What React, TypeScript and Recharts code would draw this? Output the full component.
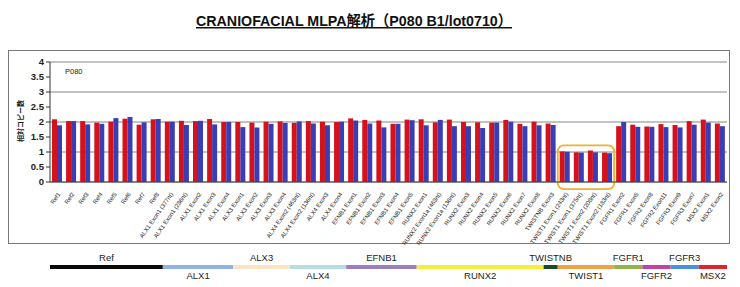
import React from 'react';
import { BarChart, Bar, XAxis, YAxis, CartesianGrid, ReferenceArea, LabelList } from 'recharts';

const categories = [
  'Ref1', 'Ref2', 'Ref3', 'Ref4', 'Ref5', 'Ref6', 'Ref7', 'Ref8',
  'ALX1 Exon1 (377nt)', 'ALX1 Exon1 (286nt)', 'ALX1 Exon2', 'ALX1 Exon3', 'ALX1 Exon4',
  'ALX3 Exon1', 'ALX3 Exon2', 'ALX3 Exon3', 'ALX3 Exon4',
  'ALX4 Exon2 (463nt)', 'ALX4 Exon2 (136nt)', 'ALX4 Exon3', 'ALX4 Exon4',
  'EFNB1 Exon1', 'EFNB1 Exon2', 'EFNB1 Exon3', 'EFNB1 Exon4', 'EFNB1 Exon5',
  'RUNX2 Exon1', 'RUNX2 Exon1a (463nt)', 'RUNX2 Exon1a (136nt)', 'RUNX2 Exon3', 'RUNX2 Exon4',
  'RUNX2 Exon5', 'RUNX2 Exon6', 'RUNX2 Exon7', 'RUNX2 Exon8',
  'TWISTNB Exon3',
  'TWIST1 Exon1 (243nt)', 'TWIST1 Exon1 (375nt)', 'TWIST1 Exon2 (208nt)', 'TWIST1 Exon2 (183nt)',
  'FGFR1 Exon2', 'FGFR1 Exon5', 'FGFR2 Exon8', 'FGFR2 Exon11', 'FGFR3 Exon9', 'FGFR3 Exon7',
  'MSX2 Exon1', 'MSX2 Exon2',
];

const sampleRed = [
  2.09, 2.03, 2.03, 1.98, 2.01, 2.11, 1.91, 2.09,
  2.01, 2.04, 2.03, 2.10, 2.00,
  2.00, 1.98, 2.01, 2.02,
  1.97, 2.03, 2.01, 2.00,
  2.12, 2.07, 2.05, 1.94, 2.08,
  2.09, 1.99, 2.08, 2.00, 1.99, 1.98, 2.07, 1.94, 2.01,
  1.95,
  1.02, 0.99, 1.05, 0.98,
  1.86, 1.91, 1.85, 1.93, 1.90, 2.03,
  2.08, 1.95,
];

const sampleBlue = [
  1.89, 2.03, 1.92, 1.94, 2.13, 2.17, 1.99, 2.10,
  2.01, 1.90, 2.04, 1.92, 2.00,
  1.83, 1.82, 1.94, 1.97,
  2.02, 1.95, 1.89, 2.01,
  2.05, 1.95, 1.82, 1.94, 2.06,
  1.89, 2.07, 1.86, 1.86, 1.80, 1.98, 2.01, 1.86, 1.89,
  1.90,
  1.01, 0.98, 0.99, 0.96,
  2.00, 1.84, 1.84, 1.83, 1.82, 1.91,
  1.98, 1.86,
];

const yTicks = [0, 0.5, 1, 1.5, 2, 2.5, 3, 3.5, 4];

const geneNames = ['Ref', 'ALX1', 'ALX3', 'ALX4', 'EFNB1', 'RUNX2', 'TWISTNB', 'TWIST1', 'FGFR1', 'FGFR2', 'FGFR3', 'MSX2'];
const geneProbeCounts = [8, 5, 4, 4, 5, 9, 1, 4, 2, 2, 2, 2];
const geneColors = ['#0a0a0a', '#8fb3e3', '#fbe4c4', '#b7dede', '#9a7fc2', '#f4ef3a', '#1d4a2e', '#eea245', '#94b347', '#c2449f', '#4b92d8', '#e0242a'];

const chartData = categories.map((c, i) => ({ probe: c, red: sampleRed[i], blue: sampleBlue[i] }));
const geneRow = [Object.assign({ row: 'genes' }, ...geneNames.map((g, i) => ({ [g]: geneProbeCounts[i] })))];

const FONT = '"Liberation Sans", Arial, "Noto Sans CJK JP", sans-serif';

const ProbeTick = (props: any) => {
  const { x, y, payload } = props;
  return (
    <g transform={`translate(${x + 2},${y + 3})`}>
      <text textAnchor="end" transform="rotate(-55)" fontSize={6} fill="#1a1a1a" fontFamily={FONT} dy={2}>
        {payload.value}
      </text>
    </g>
  );
};

export default function App() {
  return (
    <div style={{ position: 'absolute', left: 0, top: 0, width: 740, height: 287, background: '#fff', fontFamily: FONT }}>
      <div style={{ position: 'absolute', left: 8, top: 50, width: 722, height: 194, border: '1px solid #777', boxSizing: 'border-box' }} />
      <div style={{ position: 'absolute', left: 0, top: 0 }}>
        <BarChart width={740} height={250} data={chartData} margin={{ top: 62, right: 13, left: 0, bottom: 0 }} barCategoryGap="14%" barGap={0}>
          <CartesianGrid yAxisId="left" vertical={false} stroke="#858585" />
          <XAxis dataKey="probe" interval={0} height={68} tick={<ProbeTick />} tickLine={false} axisLine={{ stroke: '#444' }} />
          <YAxis yAxisId="left" domain={[0, 4]} ticks={yTicks} width={50} tickSize={4} tickMargin={2}
            tick={{ fontSize: 9.5, fill: '#222', fontWeight: 'bold', fontFamily: FONT }} axisLine={{ stroke: '#333' }} tickLine={{ stroke: '#333' }} />
          <YAxis yAxisId="right" orientation="right" domain={[0, 4]} width={0} tick={false} tickLine={false} axisLine={{ stroke: '#858585' }} />
          <Bar yAxisId="left" dataKey="red" fill="#d5121c" isAnimationActive={false} />
          <Bar yAxisId="left" dataKey="blue" fill="#3a3db4" isAnimationActive={false} />
          <ReferenceArea yAxisId="left" x1="TWIST1 Exon1 (243nt)" x2="TWIST1 Exon2 (183nt)" y1={-0.24} y2={1.22}
            fill="#ffffff" fillOpacity={0} stroke="#f0b030" strokeWidth={1.8} radius={6} ifOverflow="visible" />
        </BarChart>
      </div>
      <div style={{ position: 'absolute', left: 0, top: 250 }}>
        <BarChart width={740} height={37} data={geneRow} layout="vertical" margin={{ top: 0, right: 13, left: 50, bottom: 3 }}>
          <XAxis type="number" domain={[0, 48]} hide />
          <YAxis type="category" dataKey="row" hide />
          {geneNames.map((g, i) => (
            <Bar key={g} dataKey={g} stackId="s" fill={geneColors[i]} barSize={4} isAnimationActive={false}>
              <LabelList dataKey={g} content={(p: any) => (
                <text x={p.x + p.width / 2} y={i % 2 === 0 ? p.y - 4 : p.y + p.height + 10} textAnchor="middle"
                  fontSize={9.5} fill="#222" fontFamily={FONT}>{g}</text>
              )} />
            </Bar>
          ))}
        </BarChart>
      </div>
      <svg width={740} height={287} style={{ position: 'absolute', left: 0, top: 0, pointerEvents: 'none' }}>
        <text x={196} y={26} fontSize={15} fontWeight="bold" fill="#111" fontFamily={FONT} textLength={316}
          lengthAdjust="spacingAndGlyphs" textDecoration="underline">CRANIOFACIAL MLPA解析（P080  B1/lot0710）</text>
        <text x={65} y={74} fontSize={7.5} fill="#222" fontFamily={FONT}>P080</text>
        <text transform="translate(23,121) rotate(-90)" textAnchor="middle" fontSize={7} fontWeight="bold" fill="#222"
          fontFamily={FONT}>相対コピー数</text>
      </svg>
    </div>
  );
}
